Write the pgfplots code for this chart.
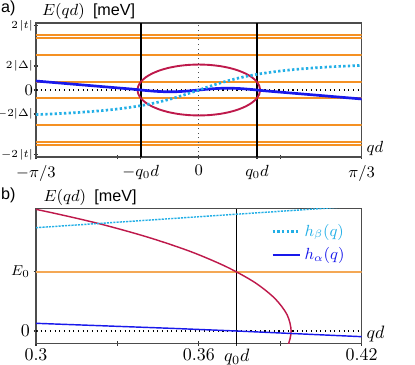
\documentclass[border=0pt]{standalone}
\usepackage{fontspec}
\setsansfont{Liberation Sans}
\usepackage{pgfplots}
\pgfplotsset{compat=1.18}
\definecolor{orA}{RGB}{245,145,35}
\definecolor{orB}{RGB}{244,168,85}
\definecolor{redc}{RGB}{190,25,75}
\definecolor{cyanc}{RGB}{35,175,230}
\definecolor{bluec}{RGB}{25,25,235}
\newcommand{\yl}{\fontsize{6}{7}\selectfont}
\begin{document}
\begin{tikzpicture}
\useasboundingbox (-20bp,12.78bp) rectangle (210.56bp,-190bp);
\begin{axis}[
  at={(0,0)}, anchor=north west,
  scale only axis, width=180.94bp, height=74.44bp,
  xmin=-1.0472, xmax=1.0472, ymin=-5.58, ymax=5.58,
  axis line style={draw=black!70, line width=0.6pt},
  tick style={black!80, line width=0.6pt},
  major tick length=2.5bp,
  tick align=center,
  xtick pos=left, ytick pos=left,
  xtick={-1.0472,-0.5236,0,0.5236,1.0472},
  xticklabels={$-\pi/3$,,$0$,,$\pi/3$},
  extra x ticks={-0.374,0.374},
  extra x tick labels={$-q_0d$,$q_0d$},
  x tick label style={font=\small},
  ytick={-5.38,-2,0,2,5.38},
  yticklabels={{\yl$-2\mskip2mu|t|$},{\yl$-2|\Delta|$},{\small$0$},{\yl$2\mskip2mu|\Delta|$},{\yl$2\mskip2mu|t|$}},
  yticklabel style={inner sep=0.3bp},
  xlabel={$qd$},
  xlabel style={at={(axis description cs:1,0.06)}, anchor=west, inner sep=2.5bp, font=\small},
]
% orange levels
\addplot[orA, line width=1.05pt] coordinates {(-1.0472,4.6) (1.0472,4.6)};
\addplot[orA, line width=1.05pt] coordinates {(-1.0472,4.33) (1.0472,4.33)};
\addplot[orA, line width=1.05pt] coordinates {(-1.0472,2.95) (1.0472,2.95)};
\addplot[orA, line width=1.05pt] coordinates {(-1.0472,0.67) (1.0472,0.67)};
\addplot[orA, line width=1.05pt] coordinates {(-1.0472,-0.67) (1.0472,-0.67)};
\addplot[orA, line width=1.05pt] coordinates {(-1.0472,-2.95) (1.0472,-2.95)};
\addplot[orA, line width=1.05pt] coordinates {(-1.0472,-4.33) (1.0472,-4.33)};
\addplot[orA, line width=1.05pt] coordinates {(-1.0472,-4.6) (1.0472,-4.6)};
% reference lines
\addplot[black, line width=1.1pt] coordinates {(-0.374,-5.58) (-0.374,5.58)};
\addplot[black, line width=1.1pt] coordinates {(0.374,-5.58) (0.374,5.58)};
\addplot[black!70, dotted, line width=0.6pt] coordinates {(0,-5.58) (0,5.58)};
\addplot[black, dotted, line width=0.6pt] coordinates {(-1.0472,0) (1.0472,0)};
% ellipse
\addplot[redc, line width=1.05pt, smooth] coordinates {
(0.394,0) (0.3880,0.3681) (0.3702,0.7250) (0.3412,1.06) (0.3018,1.3627) (0.2533,1.6239)
(0.197,1.8359) (0.1347,1.9922) (0.0684,2.0878) (0,2.12) (-0.0684,2.0878) (-0.1347,1.9922)
(-0.197,1.8359) (-0.2533,1.6239) (-0.3018,1.3627) (-0.3412,1.06) (-0.3702,0.7250) (-0.3880,0.3681)
(-0.394,0) (-0.3880,-0.3681) (-0.3702,-0.7250) (-0.3412,-1.06) (-0.3018,-1.3627) (-0.2533,-1.6239)
(-0.197,-1.8359) (-0.1347,-1.9922) (-0.0684,-2.0878) (0,-2.12) (0.0684,-2.0878) (0.1347,-1.9922)
(0.197,-1.8359) (0.2533,-1.6239) (0.3018,-1.3627) (0.3412,-1.06) (0.3702,-0.7250) (0.3880,-0.3681)
(0.394,0)};
% h_alpha
\addplot[bluec, line width=1.5pt, smooth] coordinates {
(-1.0472,0.747) (-0.9,0.587) (-0.8,0.478) (-0.7,0.369) (-0.6,0.26) (-0.5,0.151) (-0.42,0.064)
(-0.374,0) (-0.35,-0.030) (-0.3,-0.087) (-0.25,-0.129) (-0.187,-0.15) (-0.15,-0.143) (-0.1,-0.112)
(-0.05,-0.061) (0,0) (0.05,0.061) (0.1,0.112) (0.15,0.143) (0.187,0.15) (0.25,0.129) (0.3,0.087)
(0.35,0.030) (0.374,0) (0.42,-0.064) (0.5,-0.151) (0.6,-0.26) (0.7,-0.369) (0.8,-0.478)
(0.9,-0.587) (1.0472,-0.747)};
% h_beta
\addplot[cyanc, line width=1.5pt, dash pattern=on 1.3pt off 1.3pt, smooth] coordinates {
(-1.0472,-2.051) (-0.9,-1.965) (-0.8,-1.892) (-0.7,-1.801) (-0.6,-1.689) (-0.5,-1.545) (-0.4,-1.361)
(-0.35,-1.248) (-0.3,-1.122) (-0.25,-0.977) (-0.2,-0.813) (-0.15,-0.631) (-0.1,-0.432) (-0.05,-0.2195)
(0,0) (0.05,0.2195) (0.1,0.432) (0.15,0.631) (0.2,0.813) (0.25,0.977) (0.3,1.122) (0.35,1.248)
(0.4,1.361) (0.5,1.545) (0.6,1.689) (0.7,1.801) (0.8,1.892) (0.9,1.965) (1.0472,2.051)};
\end{axis}

\begin{axis}[
  at={(0,-103.2bp)}, anchor=north west,
  scale only axis, width=180.94bp, height=74.9bp,
  xmin=0.3, xmax=0.42, ymin=-0.142, ymax=1.381,
  axis line style={draw=black!70, line width=0.6pt},
  tick style={black!80, line width=0.6pt},
  major tick length=2.5bp,
  tick align=center,
  xtick pos=left, ytick pos=left,
  xtick={0.3,0.33,0.36,0.39,0.42},
  xticklabels={$0.3$,,$0.36$,,$0.42$},
  extra x ticks={0.374},
  extra x tick labels={$q_0d$},
  x tick label style={font=\normalsize, inner sep=1.6bp},
  ytick={0,0.67},
  yticklabels={{\normalsize$0$},{\footnotesize$E_0$}},
  yticklabel style={inner sep=2bp},
  xlabel={$qd$},
  xlabel style={at={(axis description cs:1,0.07)}, anchor=west, inner sep=2.5bp, font=\normalsize},
  legend style={at={(axis description cs:0.965,0.93)}, anchor=north east, draw=none, fill=none,
    font=\small, row sep=1bp, inner sep=1bp},
  legend cell align=left,
  legend image code/.code={\draw[#1] (0bp,0bp) -- (15bp,0bp);},
]
\addlegendimage{cyanc, line width=1.5pt, dash pattern=on 1.3pt off 1.3pt}
\addlegendentry{\textcolor{cyanc}{$h_\beta(q)$}}
\addlegendimage{bluec, line width=1.5pt}
\addlegendentry{\textcolor{bluec}{$h_\alpha(q)$}}
\addplot[orB, line width=1pt, forget plot] coordinates {(0.3,0.67) (0.42,0.67)};
\addplot[black, line width=0.6pt, forget plot] coordinates {(0.374,-0.142) (0.374,1.381)};
\addplot[black, dotted, line width=0.6pt, forget plot] coordinates {(0.3,0) (0.42,0)};
\addplot[redc, line width=0.8pt, smooth, forget plot] coordinates {
(0.3806,-0.5487) (0.3880,-0.3681) (0.3925,-0.1848) (0.394,0) (0.3925,0.1848) (0.3880,0.3681)
(0.3806,0.5487) (0.3702,0.7250) (0.3571,0.8959) (0.3412,1.06) (0.3228,1.2160) (0.3018,1.3627)
(0.2786,1.4990)};
\addplot[bluec, line width=0.8pt, forget plot] coordinates {(0.3,0.087) (0.35,0.030) (0.374,0) (0.42,-0.064)};
\addplot[cyanc, line width=0.8pt, dash pattern=on 1.2pt off 0.6pt, forget plot] coordinates {(0.3,1.167) (0.36,1.291) (0.42,1.414)};
\end{axis}

\node[anchor=base west, inner sep=0, font=\sffamily\small] at (-19.6bp,5.8bp) {a)};
\node[anchor=base west, inner sep=0, font=\small] at (3.2bp,3.9bp) {$E(qd)$\hspace{4.6bp}\textsf{[meV]}};
\node[anchor=base west, inner sep=0, font=\sffamily\small] at (-19.6bp,-97.9bp) {b)};
\node[anchor=base west, inner sep=0, font=\small] at (4.0bp,-99.4bp) {$E(qd)$\hspace{4.6bp}\textsf{[meV]}};
\end{tikzpicture}
\end{document}
